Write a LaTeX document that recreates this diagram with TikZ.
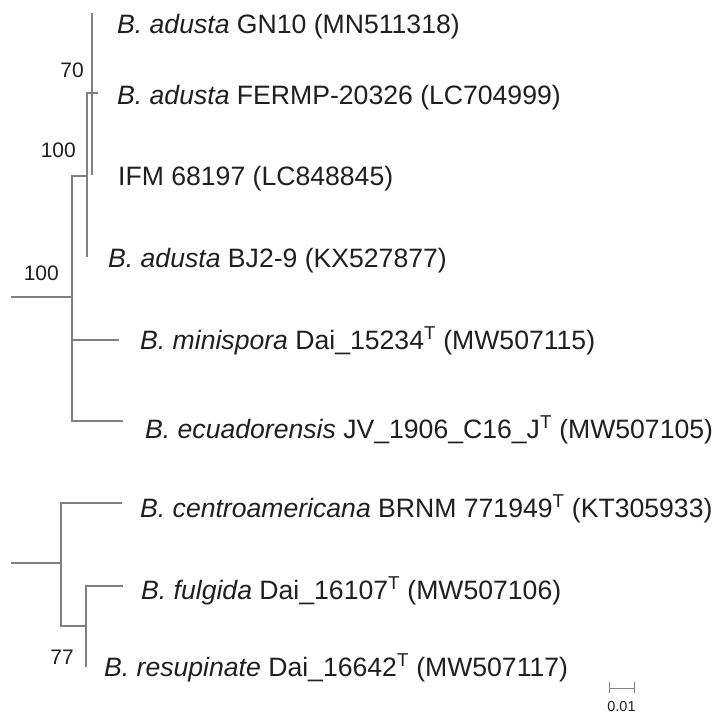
\documentclass[tikz,border=0pt]{standalone}
\usepackage{fontspec}
\setmainfont{Liberation Sans}
\usepackage{tikz}

\begin{document}
\begin{tikzpicture}[x=1pt,y=-1pt,
  branch/.style={draw=black!50,line width=1.1pt},
  taxon/.style={anchor=base west,inner sep=0pt,text=black!88,font=\fontsize{26.6}{30}\selectfont},
  boot/.style={anchor=base east,inner sep=0pt,text=black!88,font=\fontsize{21}{25}\selectfont}]
\useasboundingbox (0,0) rectangle (718,715);
% adusta group
\coordinate (root1) at (11,297); \coordinate (n1) at (72,297);
\coordinate (n2) at (87,176); \coordinate (n3) at (92,93);
\coordinate (gn10) at (92,13); \coordinate (fermp) at (98,93);
\coordinate (ifm) at (92,175); \coordinate (bj) at (87,257);
\coordinate (mini) at (119,340); \coordinate (ecua) at (123,421);
\draw[branch] (root1) -- (n1) (n1) |- (n2) (n1) |- (mini) (n1) |- (ecua);
\draw[branch] (n2) |- (n3) (n2) |- (bj);
\draw[branch] (n3) |- (gn10) (n3) |- (ifm) (n3) -- (fermp);
% fulgida group
\coordinate (root2) at (11,563); \coordinate (n4) at (61,563);
\coordinate (centro) at (122,503); \coordinate (n5) at (86,626);
\coordinate (fulg) at (123,586); \coordinate (resup) at (86,667);
\draw[branch] (root2) -- (n4) (n4) |- (centro) (n4) |- (n5);
\draw[branch] (n5) |- (fulg) (n5) |- (resup);

\node[taxon] (t1) at (117,33) {\textit{B. adusta} GN10 (MN511318)};
\node[taxon] (t2) at (117,104) {\textit{B. adusta} FERMP-20326 (LC704999)};
\node[taxon] (t3) at (118,185) {IFM 68197 (LC848845)};
\node[taxon] (t4) at (108,267) {\textit{B. adusta} BJ2-9 (KX527877)};
\node[taxon] (t5) at (140,349) {\textit{B. minispora} Dai\_15234\textsuperscript{T} (MW507115)};
\node[taxon] (t6) at (145,438) {\textit{B. ecuadorensis} JV\_1906\_C16\_J\textsuperscript{T} (MW507105)};
\node[taxon] (t7) at (140,517) {\textit{B. centroamericana} BRNM 771949\textsuperscript{T} (KT305933)};
\node[taxon] (t8) at (141,599) {\textit{B. fulgida} Dai\_16107\textsuperscript{T} (MW507106)};
\node[taxon] (t9) at (104,676) {\textit{B. resupinate} Dai\_16642\textsuperscript{T} (MW507117)};

\node[boot] (b1) at (84,77) {70};
\node[boot] (b2) at (76,157) {100};
\node[boot] (b3) at (59,280) {100};
\node[boot] (b4) at (74,664) {77};

% scale bar
\coordinate (s1) at (609,688); \coordinate (s2) at (634,688);
\draw[branch,line width=1pt] (s1) -- (s2) ([yshift=-5pt]s1) -- ([yshift=6pt]s1) ([yshift=-5pt]s2) -- ([yshift=6pt]s2);
\node[boot,anchor=base,font=\fontsize{14.5}{16}\selectfont] (sc) at (621.5,711) {0.01};
\end{tikzpicture}
\end{document}
